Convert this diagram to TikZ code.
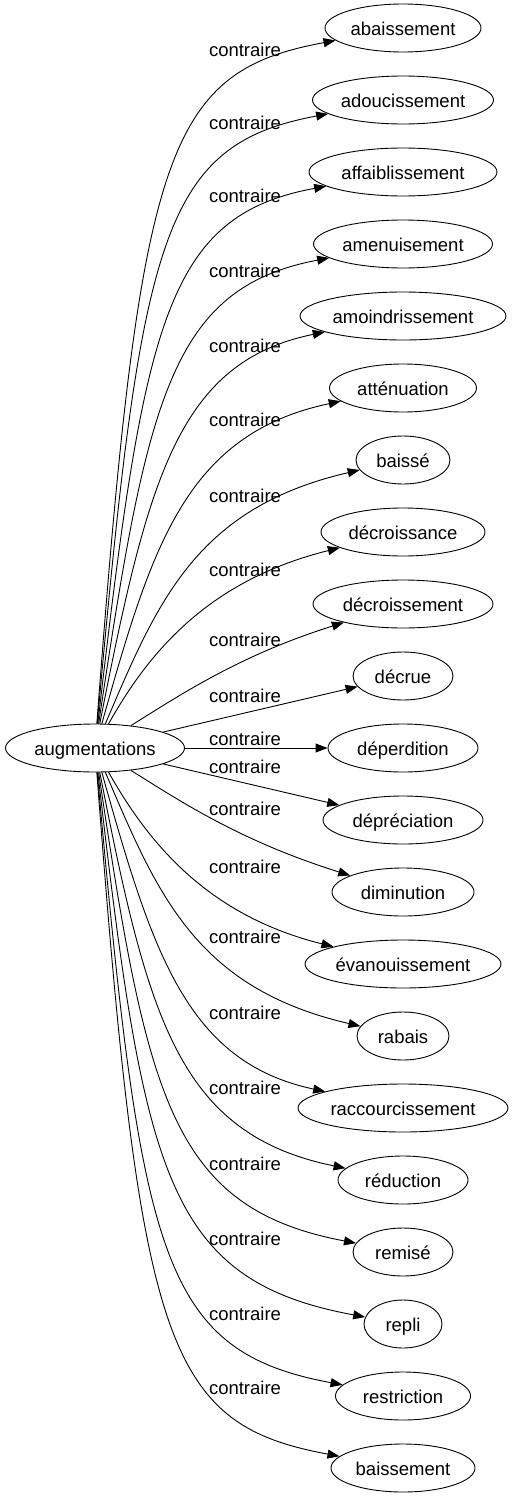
\documentclass[tikz,border=0pt]{standalone}
\usepackage{fontspec}
\setmainfont{Liberation Sans}
\usetikzlibrary{shapes.geometric,arrows.meta}

\begin{document}
\begin{tikzpicture}[x=1pt, y=-1pt,
    wordnode/.style={draw, ellipse, line width=0.9pt, inner sep=0pt, minimum height=48pt, font=\fontsize{18.5}{22}\selectfont, text height=16pt, text depth=2pt},
    relnode/.style={inner sep=0pt, font=\fontsize{18.5}{22}\selectfont, text height=16pt, text depth=2pt},
    arr/.style={-{Triangle[length=12pt, width=9pt]}, line width=0.9pt}
  ]
    \useasboundingbox (0,0) rectangle (513,1499);

    \node[wordnode, minimum width=179pt] (src) at (95, 748) {augmentations};

    \node[wordnode, minimum width=156pt] (t1) at (403, 28) {abaissement};
    \node[wordnode, minimum width=181pt] (t2) at (403, 100) {adoucissement};
    \node[wordnode, minimum width=188pt] (t3) at (403, 172) {affaiblissement};
    \node[wordnode, minimum width=179pt] (t4) at (403, 244) {amenuisement};
    \node[wordnode, minimum width=206pt] (t5) at (403, 316) {amoindrissement};
    \node[wordnode, minimum width=147pt] (t6) at (403, 388) {atténuation};
    \node[wordnode, minimum width=94pt] (t7) at (403, 460) {baissé};
    \node[wordnode, minimum width=164pt] (t8) at (403, 532) {décroissance};
    \node[wordnode, minimum width=180pt] (t9) at (403, 604) {décroissement};
    \node[wordnode, minimum width=100pt] (t10) at (403, 676) {décrue};
    \node[wordnode, minimum width=150pt] (t11) at (403, 748) {déperdition};
    \node[wordnode, minimum width=160pt] (t12) at (403, 820) {dépréciation};
    \node[wordnode, minimum width=142pt] (t13) at (403, 892) {diminution};
    \node[wordnode, minimum width=196pt] (t14) at (403, 964) {évanouissement};
    \node[wordnode, minimum width=92pt] (t15) at (403, 1036) {rabais};
    \node[wordnode, minimum width=210pt] (t16) at (403, 1108) {raccourcissement};
    \node[wordnode, minimum width=130pt] (t17) at (403, 1180) {réduction};
    \node[wordnode, minimum width=100pt] (t18) at (403, 1252) {remisé};
    \node[wordnode, minimum width=78pt] (t19) at (403, 1324) {repli};
    \node[wordnode, minimum width=135pt] (t20) at (403, 1396) {restriction};
    \node[wordnode, minimum width=144pt] (t21) at (403, 1468) {baissement};

    % edge labels
    \node[relnode] (l1) at (245, 49) {contraire};
    \node[relnode] (l2) at (245, 122) {contraire};
    \node[relnode] (l3) at (245, 195) {contraire};
    \node[relnode] (l4) at (245, 270) {contraire};
    \node[relnode] (l5) at (245, 345) {contraire};
    \node[relnode] (l6) at (245, 419) {contraire};
    \node[relnode] (l7) at (245, 495) {contraire};
    \node[relnode] (l8) at (245, 569) {contraire};
    \node[relnode] (l9) at (245, 639) {contraire};
    \node[relnode] (l10) at (245, 695) {contraire};
    \node[relnode] (l11) at (245, 738) {contraire};
    \node[relnode] (l12) at (245, 766) {contraire};
    \node[relnode] (l13) at (245, 808) {contraire};
    \node[relnode] (l14) at (245, 866) {contraire};
    \node[relnode] (l15) at (245, 936) {contraire};
    \node[relnode] (l16) at (245, 1012) {contraire};
    \node[relnode] (l17) at (245, 1087) {contraire};
    \node[relnode] (l18) at (245, 1163) {contraire};
    \node[relnode] (l19) at (245, 1238) {contraire};
    \node[relnode] (l20) at (245, 1313) {contraire};
    \node[relnode] (l21) at (245, 1387) {contraire};

    \draw[arr] (src) .. controls (140, 150) and (165, 72) .. (t1);
    \draw[arr] (src) .. controls (141, 240) and (160, 145) .. (t2);
    \draw[arr] (src) .. controls (144, 323) and (165, 216) .. (t3);
    \draw[arr] (src) .. controls (147, 400) and (170, 288) .. (t4);
    \draw[arr] (src) .. controls (148, 478) and (178, 362) .. (t5);
    \draw[arr] (src) .. controls (152, 545) and (186, 434) .. (t6);
    \draw[arr] (src) .. controls (157, 603) and (195, 508) .. (t7);
    \draw[arr] (src) .. controls (150, 650) and (210, 580) .. (t8);
    \draw[arr] (src) .. controls (180, 695) and (240, 655) .. (t9);
    \draw[arr] (src) -- (t10);
    \draw[arr] (src) -- (t11);
    \draw[arr] (src) -- (t12);
    \draw[arr] (src) .. controls (180, 801) and (240, 841) .. (t13);
    \draw[arr] (src) .. controls (150, 846) and (210, 916) .. (t14);
    \draw[arr] (src) .. controls (157, 893) and (195, 988) .. (t15);
    \draw[arr] (src) .. controls (152, 951) and (186, 1062) .. (t16);
    \draw[arr] (src) .. controls (148, 1018) and (178, 1134) .. (t17);
    \draw[arr] (src) .. controls (147, 1096) and (170, 1208) .. (t18);
    \draw[arr] (src) .. controls (144, 1173) and (165, 1280) .. (t19);
    \draw[arr] (src) .. controls (141, 1256) and (160, 1351) .. (t20);
    \draw[arr] (src) .. controls (140, 1346) and (165, 1424) .. (t21);
\end{tikzpicture}
\end{document}
